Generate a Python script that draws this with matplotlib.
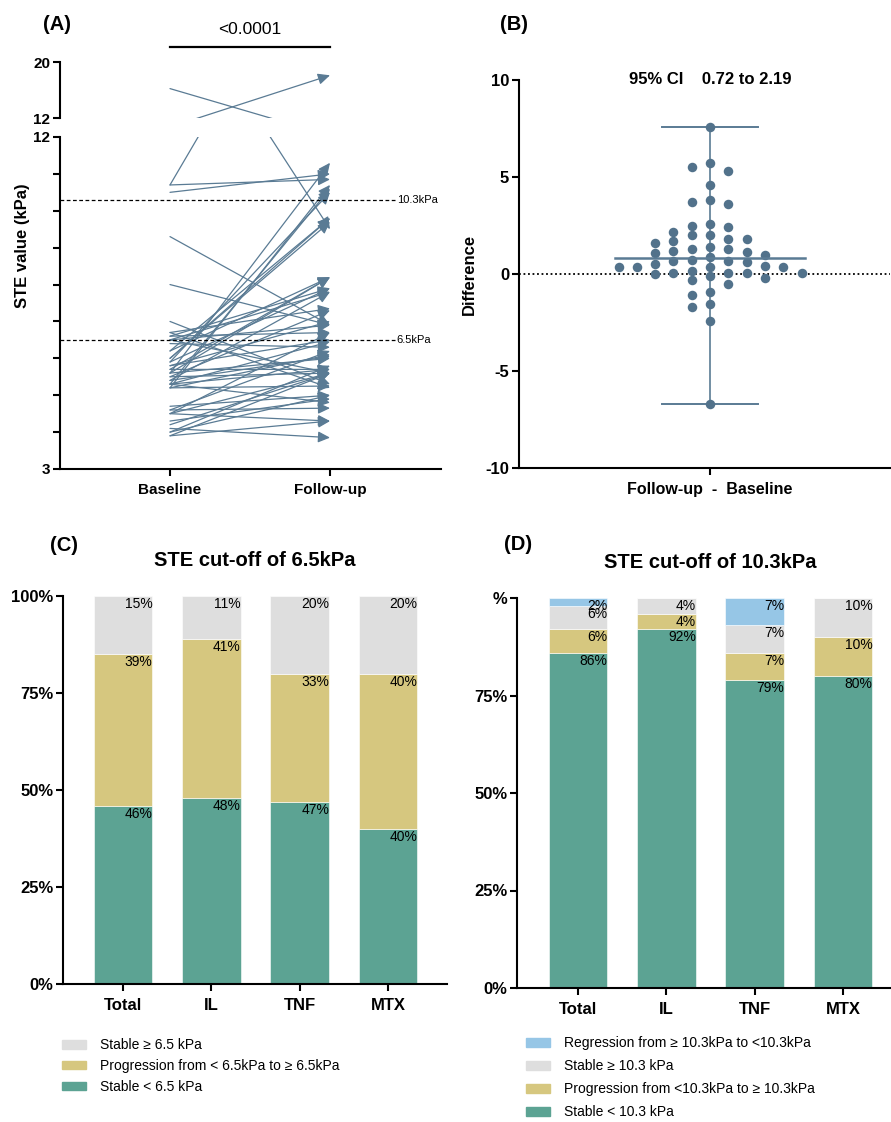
"""
STE 追蹤圖：配對箭頭、差值散點、兩種 cut-off 的堆疊長條
"""
import matplotlib
matplotlib.use('Agg')
import matplotlib.pyplot as plt
from matplotlib.patches import FancyArrowPatch, Patch
import numpy as np

plt.rcParams['font.family'] = ['Liberation Sans', 'DejaVu Sans']

# ---- 資料 ----
# (A) 每位病人的 baseline / follow-up STE (kPa)
baseline = [16.2, 10.7, 10.7, 10.5, 9.3, 8.0, 5.6, 5.2, 5.3, 5.9,
            6.0, 6.0, 6.2, 5.6, 5.7, 5.4, 4.5, 6.2, 5.9, 5.5,
            4.0, 3.9, 4.6, 4.2, 6.5, 6.6, 5.8, 5.3, 4.5, 4.0,
            5.2, 5.8, 6.7, 5.4, 4.3, 5.6, 3.9, 5.3, 6.5, 4.7,
            5.5, 6.6, 5.2, 4.6, 5.7, 6.4, 4.5, 4.1, 5.3, 6.5,
            7.0, 6.7]
follow_up = [9.5, 18.1, 10.85, 11.0, 6.9, 6.9, 11.3, 10.7, 10.6, 10.5,
             9.8, 9.7, 9.8, 8.2, 8.2, 7.8, 6.7, 8.2, 7.9, 7.3,
             5.8, 5.6, 6.2, 5.6, 7.8, 7.9, 7.0, 6.45, 5.6, 5.0,
             6.1, 6.5, 7.35, 6.05, 4.9, 6.0, 4.3, 5.7, 6.9, 5.0,
             5.6, 6.7, 5.25, 4.65, 5.7, 6.3, 4.3, 3.85, 4.8, 5.6,
             5.3, 5.2]
cutoffs = [10.3, 6.5]
cutoff_labels = ['10.3kPa', '6.5kPa']
p_text = '<0.0001'

# (B) follow-up - baseline
diff_values = [7.6, 5.7, 5.52, 5.29, 4.6, 3.8, 3.59, 3.71, 2.42, 2.49,
               2.56, 2.17, 1.80, 1.99, 1.80, 1.99, 1.70, 1.60, 1.39, 1.19,
               1.15, 1.27, 1.27, 1.10, 0.96, 0.89, 0.62, 0.65, 0.65, 0.72,
               0.50, 0.43, 0.38, 0.34, 0.38, 0.38, 0.07, 0.07, 0.07, 0.17,
               0.07, -0.02, -0.23, -0.12, -0.33, -0.50, -1.10, -0.93, -1.53, -1.69,
               -2.44, -6.72]
ci_text = '95% CI    0.72 to 2.19'

# (C)(D) 各組百分比
groups = ['Total', 'IL', 'TNF', 'MTX']
c_stable_low = [46, 48, 47, 40]
c_progression = [39, 41, 33, 40]
c_stable_high = [15, 11, 20, 20]
c_labels = ['Stable \u2265 6.5 kPa', 'Progression from < 6.5kPa to \u2265 6.5kPa', 'Stable < 6.5 kPa']

d_stable_low = [86, 92, 79, 80]
d_progression = [6, 4, 7, 10]
d_stable_high = [6, 4, 7, 10]
d_regression = [2, 0, 7, 0]
d_labels = ['Regression from \u2265 10.3kPa to <10.3kPa', 'Stable \u2265 10.3 kPa',
            'Progression from <10.3kPa to \u2265 10.3kPa', 'Stable < 10.3 kPa']

# ---- 樣式 ----
LINE_COLOR = '#5a7b94'
DOT_COLOR = '#52728b'
GREY = '#dedede'
KHAKI = '#d6c77f'
TEAL = '#5ca393'
BLUE = '#96c6e6'
SPINE_W = 1.5

W, H = 891, 1122
fig = plt.figure(figsize=(W / 100, H / 100), dpi=100)


def px_axes(x0, y0, x1, y1):
    """以像素座標（左上為原點）建立座標軸"""
    return fig.add_axes([x0 / W, 1 - y1 / H, (x1 - x0) / W, (y1 - y0) / H])


def style_axes(ax):
    for s in ('top', 'right'):
        ax.spines[s].set_visible(False)
    for s in ('left', 'bottom'):
        ax.spines[s].set_linewidth(SPINE_W)
    ax.tick_params(width=SPINE_W, length=5, pad=2)


def swarm_offsets(values, y_scale, step, min_gap):
    """簡單的 beeswarm：依值由大到小放入最靠中間且不重疊的欄"""
    order = np.argsort(values)[::-1]
    placed = []
    offsets = np.zeros(len(values))
    cands = [0]
    for k in range(1, 10):
        cands += [-k, k]
    for i in order:
        y = values[i] * y_scale
        for c in cands:
            if all(abs(y - py) >= min_gap for pc, py in placed if pc == c):
                break
        placed.append((c, y))
        offsets[i] = c * step
    return offsets


# ===== (A) =====
ax_lo = px_axes(60, 137, 441, 469)
ax_hi = px_axes(60, 62, 441, 118)
x_left = -0.6875
x_right = x_left + (441 - 60) / 160

for b, f in zip(baseline, follow_up):
    for ax in (ax_lo, ax_hi):
        arr = FancyArrowPatch((0, b), (1, f),
                              arrowstyle='-|>,head_length=0.6,head_width=0.28',
                              mutation_scale=12, shrinkA=0, shrinkB=0,
                              color=LINE_COLOR, lw=0.9)
        ax.add_patch(arr)

for ax in (ax_lo, ax_hi):
    ax.set_xlim(x_left, x_right)
    style_axes(ax)
ax_lo.set_ylim(3, 12)
ax_hi.set_ylim(12, 20)

line_end = x_left + (395 - 60) / 160
for c, lab in zip(cutoffs, cutoff_labels):
    ax_lo.plot([x_left, line_end], [c, c], color='k', lw=0.9, ls=(0, (3, 2)))
    ax_lo.text(line_end + 0.01, c, lab, fontsize=8, va='center', ha='left')

ticks = list(range(3, 13))
ax_lo.set_yticks(ticks, [str(t) if t in (3, 12) else '' for t in ticks],
                 fontweight='bold', fontsize=11)
ax_lo.set_xticks([0, 1], ['Baseline', 'Follow-up'], fontweight='bold', fontsize=11)
ax_lo.tick_params(axis='x', pad=5)
ax_hi.set_yticks([12, 20], ['12', '20'], fontweight='bold', fontsize=11)
ax_hi.spines['bottom'].set_visible(False)
ax_hi.tick_params(axis='x', bottom=False, labelbottom=False)

# 顯著性橫線
ax_hi.plot([0, 1], [22.1, 22.1], color='k', lw=1.6, clip_on=False)
ax_hi.text(0.5, 24.6, p_text, ha='center', va='center', fontsize=12.5)

fig.text(23 / W, 1 - 246 / H, 'STE value (kPa)', rotation=90, fontweight='bold',
         fontsize=12, ha='center', va='center')
fig.text(57 / W, 1 - 25 / H, '(A)', fontweight='bold', fontsize=14.5, ha='center', va='center')

# ===== (B) =====
ax_b = px_axes(519, 80, 890, 468)
ax_b.set_ylim(-10, 10)
ax_b.set_xlim(519 - 710, 890 - 710)
style_axes(ax_b)

diffs = np.array(diff_values)
xs = swarm_offsets(diffs, 388 / 20, 18.3, 9.0)
med = np.median(diffs)
lo, hi = diffs.min(), diffs.max()

ax_b.axhline(0, color='k', ls=(0, (1, 1.5)), lw=1.3, zorder=1)
ax_b.plot([0, 0], [lo, hi], color=LINE_COLOR, lw=1.2, zorder=2)
ax_b.plot([-48, 48], [hi, hi], color=LINE_COLOR, lw=1.4, zorder=2)
ax_b.plot([-48, 48], [lo, lo], color=LINE_COLOR, lw=1.4, zorder=2)
ax_b.scatter(xs, diffs, s=47, color=DOT_COLOR, linewidths=0, zorder=3)
ax_b.plot([-95, 95], [med, med], color=LINE_COLOR, lw=1.8, zorder=4)

ax_b.set_yticks([-10, -5, 0, 5, 10], ['-10', '-5', '0', '5', '10'],
                fontweight='bold', fontsize=12)
ax_b.set_xticks([0], ['Follow-up  -  Baseline'], fontweight='bold', fontsize=11.5)
ax_b.tick_params(axis='x', pad=5)
ax_b.set_ylabel('Difference', fontweight='bold', fontsize=12, labelpad=6)
ax_b.text(0, 10, ci_text, ha='center', va='center', fontweight='bold', fontsize=12)
fig.text(514 / W, 1 - 25 / H, '(B)', fontweight='bold', fontsize=14.5, ha='center', va='center')

# ===== (C)(D) =====
BAR_W = 0.667
xpos = np.arange(len(groups))


def stacked(ax, segments, colors):
    bottom = np.zeros(len(groups))
    for vals, col in zip(segments, colors):
        vals = np.array(vals, dtype=float)
        ax.bar(xpos, vals, width=BAR_W, bottom=bottom, color=col,
               edgecolor='white', linewidth=0.4)
        for xi, v, b in zip(xpos, vals, bottom):
            if v > 0:
                ax.text(xi + BAR_W / 2, b + v - 0.3, f'{v:.0f}%', ha='right', va='top',
                        fontsize=10)
        bottom += vals


def bar_axes(ax, top_label):
    ax.set_ylim(0, 100)
    style_axes(ax)
    ax.set_yticks([0, 25, 50, 75, 100], ['0%', '25%', '50%', '75%', top_label],
                  fontweight='bold', fontsize=12)
    ax.set_xticks(xpos, groups, fontweight='bold', fontsize=12)
    ax.tick_params(axis='x', pad=5)


ax_c = px_axes(63, 596, 447, 984)
stacked(ax_c, [c_stable_low, c_progression, c_stable_high], [TEAL, KHAKI, GREY])
ax_c.set_xlim(-60 / 88.3, 3 + (447 - 388) / 88.3)
bar_axes(ax_c, '100%')
fig.text(255 / W, 1 - 561 / H, 'STE cut-off of 6.5kPa', fontweight='bold', fontsize=14.5,
         ha='center', va='center')
fig.text(64 / W, 1 - 546 / H, '(C)', fontweight='bold', fontsize=14.5, ha='center', va='center')
handles_c = [Patch(color=GREY), Patch(color=KHAKI), Patch(color=TEAL)]
fig.legend(handles_c, c_labels, loc='upper left', bbox_to_anchor=(62 / W, 1 - 1038 / H),
           frameon=False, fontsize=10, handlelength=1.7, handleheight=0.6,
           labelspacing=0.5, handletextpad=1.0, borderpad=0, borderaxespad=0)

ax_d = px_axes(517, 598, 890, 988)
stacked(ax_d, [d_stable_low, d_progression, d_stable_high, d_regression],
        [TEAL, KHAKI, GREY, BLUE])
ax_d.set_xlim(-61 / 88.3, 3 + (890 - 843) / 88.3)
bar_axes(ax_d, '%')
fig.text(710 / W, 1 - 563 / H, 'STE cut-off of 10.3kPa', fontweight='bold', fontsize=14.5,
         ha='center', va='center')
fig.text(518 / W, 1 - 545 / H, '(D)', fontweight='bold', fontsize=14.5, ha='center', va='center')
handles_d = [Patch(color=BLUE), Patch(color=GREY), Patch(color=KHAKI), Patch(color=TEAL)]
fig.legend(handles_d, d_labels, loc='upper left', bbox_to_anchor=(526 / W, 1 - 1036 / H),
           frameon=False, fontsize=10, handlelength=1.7, handleheight=0.6,
           labelspacing=0.65, handletextpad=1.0, borderpad=0, borderaxespad=0)

fig.savefig('out.png', dpi=100)
